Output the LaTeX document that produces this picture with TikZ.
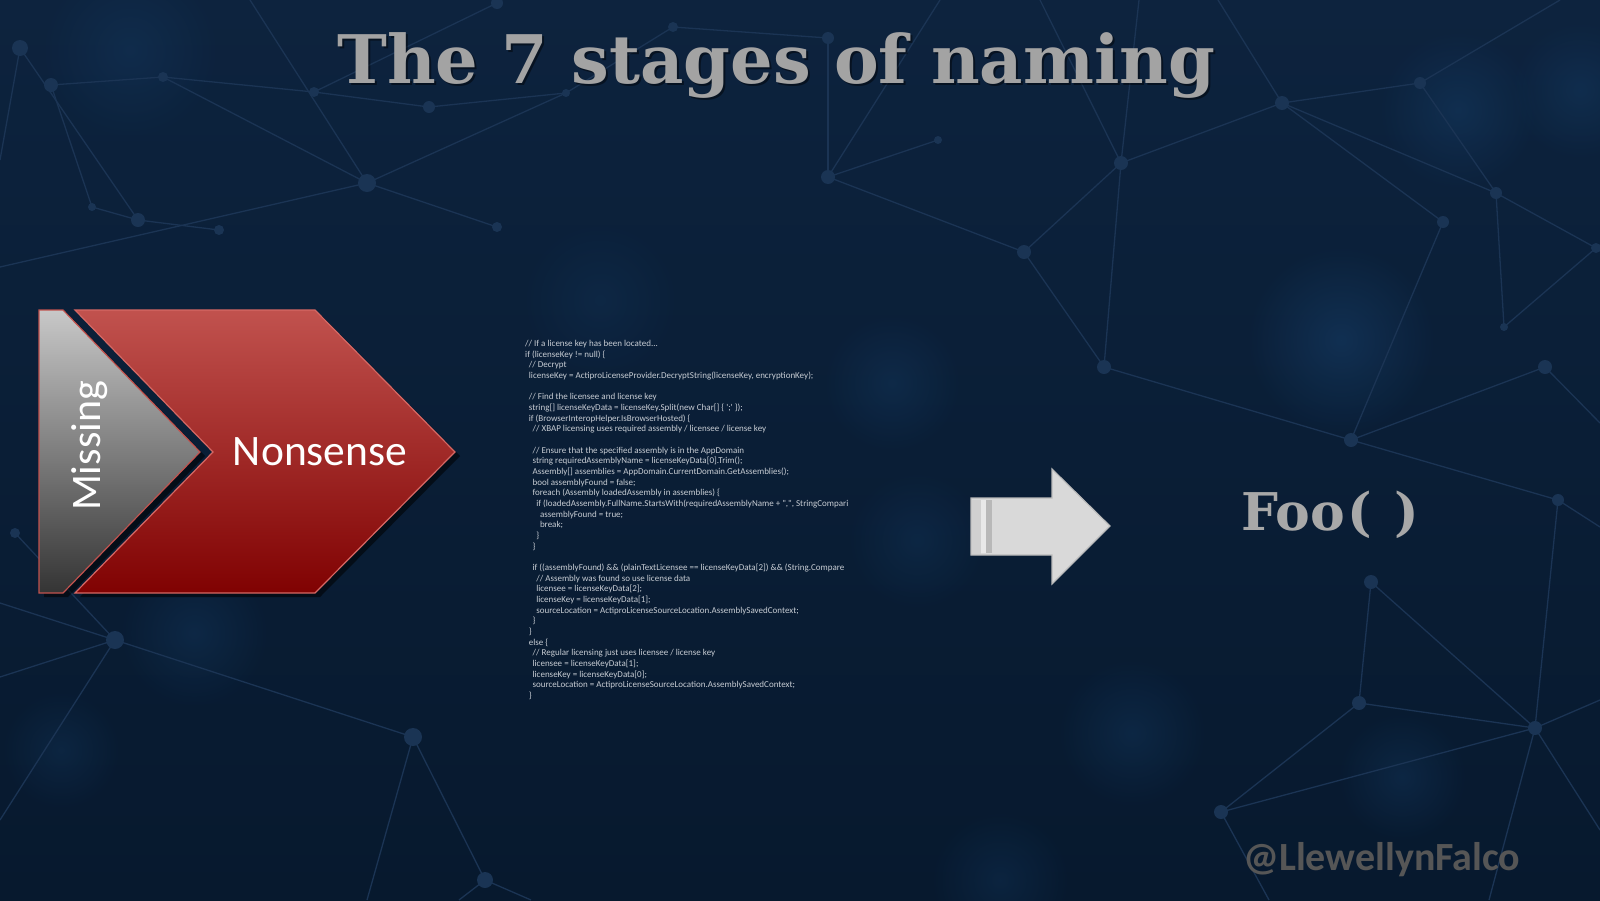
\documentclass[tikz,border=0pt]{standalone}
\usepackage{fontspec}
\usepackage{graphicx}
\usetikzlibrary{fadings}
\newfontfamily\titlefont{DejaVu Serif}
\newfontfamily\calfont{Carlito}

\definecolor{bgT}{RGB}{13,35,62}
\definecolor{bgM}{RGB}{7,27,50}
\definecolor{bgB}{RGB}{7,25,46}
\definecolor{glowc}{RGB}{22,62,104}
\definecolor{netline}{RGB}{27,52,84}
\definecolor{netdot}{RGB}{26,52,84}
\definecolor{titlegray}{RGB}{163,163,163}
\definecolor{foogray}{RGB}{168,168,168}
\definecolor{handlegray}{RGB}{86,86,86}
\definecolor{codegray}{RGB}{200,205,212}
\definecolor{redtop}{RGB}{193,82,78}
\definecolor{redbot}{RGB}{128,2,2}
\definecolor{redline}{RGB}{214,104,100}
\definecolor{graytop}{RGB}{200,200,200}
\definecolor{graybot}{RGB}{52,52,52}
\definecolor{arrowfill}{RGB}{217,217,217}
\definecolor{arrowline}{RGB}{186,186,186}

\tikzfading[name=softglow, inner color=transparent!0, outer color=transparent!100]

\newlength\codeind
\setlength\codeind{3.7pt}
\newcommand\ci[1]{\hspace*{#1\codeind}}

\tikzset{
  netedge/.style={draw=netline, line width=1.3pt},
  glow/.style={fill=glowc, path fading=softglow},
  chevshadow/.style={fill=black, opacity=0.55},
}

\begin{document}
\begin{tikzpicture}[x=1pt,y=-1pt]
\useasboundingbox (0,0) rectangle (1600,900);

% backdrop
\shade[top color=bgT, middle color=bgM, bottom color=bgB] (0,0) rectangle (1600,900);
\foreach \x/\y/\r/\o in {1341/340/95/.55, 1458/110/80/.45, 892/383/70/.35, 1580/90/70/.4,
  194/633/75/.35, 917/540/70/.3, 1132/733/75/.35, 1402/777/65/.35, 61/750/60/.3,
  130/50/90/.35, 600/300/80/.25, 1000/880/70/.3}
  \fill[glow, opacity=\o] (\x,\y) circle (\r);

% network of points
\foreach \n/\x/\y in {a1/20/48, a2/51/85, a3/163/77, a4/314/92, a5/429/107,
  a6/566/93, a7/367/183, a8/497/227, a9/138/220, a10/219/230, a11/92/207,
  a12/673/27, a13/497/3,
  b1/828/38, b2/828/177, b3/938/140, b4/1121/163, b5/1024/252, b6/1104/367,
  b7/1282/103, b8/1420/83, b9/1443/222, b10/1496/193, b11/1545/367,
  b12/1351/440, b13/1596/248, b14/1504/327,
  c1/115/640, c2/413/737, c3/485/880, c4/15/533,
  d1/1558/500, d2/1371/582, d3/1359/703, d4/1535/728, d5/1221/812}
  \coordinate (\n) at (\x,\y);
\foreach \n/\x/\y in {e1/0/267, e2/250/0, e3/0/603, e4/0/677, e5/0/820, e6/367/900,
  e7/531/900, e8/459/900, e9/1040/0, e10/1139/0, e11/1218/0, e12/940/0, e13/1560/0,
  e14/1600/423, e15/1269/900, e16/1600/527, e17/1600/700, e18/1489/900, e19/1600/830,
  e20/0/160}
  \coordinate (\n) at (\x,\y);
\foreach \p/\q in {e1/a7, a7/a8, a7/a3, a7/e2, a7/a6, a1/a9, a2/a3, a2/a11, a3/a4, a4/a5,
  a5/a6, a4/a13, a6/a12, a12/b1, a1/e20, a9/a10, a9/a11,
  b2/b5, b5/b6, b5/b4, b4/b6, b4/b7, b4/e9, b4/e10, b7/b9, b7/e11, b7/b10, b8/b10,
  b8/e13, b10/b13, b10/b14, b9/b12, b12/b11, b6/b12, b2/e12, b2/b3, b11/e14, b13/b14,
  b1/b2, b7/b8,
  e3/c1, c1/c2, c1/e4, c1/e5, c2/e6, c2/c3, c3/e7, c3/e8, c4/c1,
  d2/d3, d2/d4, d3/d4, d3/d5, d5/d4, d5/e15, d1/e16, b12/d1, d4/e17, d4/e18, d4/e19, d1/d4}
  \draw[netedge] (\p) -- (\q);
\foreach \n/\r in {a1/8, a2/7, a3/5, a4/5, a5/6, a6/4, a7/9, a8/5, a9/7, a10/5, a11/4,
  a12/5, a13/6, b1/6, b2/7, b3/4, b4/7, b5/7, b6/7, b7/7, b8/6, b9/6, b10/6, b11/7,
  b12/7, b13/5, b14/4, c1/9, c2/9, c3/8, c4/5, d1/6, d2/7, d3/7, d4/7, d5/7}
  \fill[netdot] (\n) circle (\r);

% title
\node[anchor=base west, inner sep=0, text=black, opacity=.45,
  font=\titlefont\bfseries\fontsize{67}{67}\selectfont] at (339,85) {The 7 stages of naming};
\node[anchor=base west, inner sep=0, text=titlegray,
  font=\titlefont\bfseries\fontsize{67}{67}\selectfont] (title) at (337,83) {The 7 stages of naming};

% chevron stages
\fill[chevshadow] (80,314) -- (320,314) -- (460,456) -- (320,597) -- (80,597) -- (218,456) -- cycle;
\fill[chevshadow] (44,314) -- (68,314) -- (205,456) -- (68,597) -- (44,597) -- cycle;
\shade[top color=graytop, bottom color=graybot, draw=redtop, line width=1.2pt]
  (39,310) -- (63,310) -- (200,452) -- (63,593) -- (39,593) -- cycle;
\shade[top color=redtop, bottom color=redbot, draw=redline, line width=1.2pt]
  (75,310) -- (315,310) -- (455,452) -- (315,593) -- (75,593) -- (213,452) -- cycle;
\node[rotate=90, anchor=base, inner sep=0, text=white,
  font=\calfont\fontsize{42}{42}\selectfont] (missing) at (100,446) {Missing};
\node[anchor=base, inner sep=0, text=white,
  font=\calfont\fontsize{43.5}{43.5}\selectfont] (nonsense) at (320,465) {Nonsense};

% code listing
\node[anchor=north west, inner sep=0, align=left, text=codegray,
  font=\calfont\fontsize{9}{10.67}\selectfont] (code) at (525,340) {%
\ci0// If a license key has been located...\\
\ci0if (licenseKey != null) \{\\
\ci1// Decrypt\\
\ci1licenseKey = ActiproLicenseProvider.DecryptString(licenseKey, encryptionKey);\\
\mbox{}\\
\ci1// Find the licensee and license key\\
\ci1string[] licenseKeyData = licenseKey.Split(new Char[] \{ ';' \});\\
\ci1if (BrowserInteropHelper.IsBrowserHosted) \{\\
\ci2// XBAP licensing uses required assembly / licensee / license key\\
\mbox{}\\
\ci2// Ensure that the specified assembly is in the AppDomain\\
\ci2string requiredAssemblyName = licenseKeyData[0].Trim();\\
\ci2Assembly[] assemblies = AppDomain.CurrentDomain.GetAssemblies();\\
\ci2bool assemblyFound = false;\\
\ci2foreach (Assembly loadedAssembly in assemblies) \{\\
\ci3if (loadedAssembly.FullName.StartsWith(requiredAssemblyName + ",", StringCompari\\
\ci4assemblyFound = true;\\
\ci4break;\\
\ci3\}\\
\ci2\}\\
\mbox{}\\
\ci2if ((assemblyFound) \&\& (plainTextLicensee == licenseKeyData[2]) \&\& (String.Compare\\
\ci3// Assembly was found so use license data\\
\ci3licensee = licenseKeyData[2];\\
\ci3licenseKey = licenseKeyData[1];\\
\ci3sourceLocation = ActiproLicenseSourceLocation.AssemblySavedContext;\\
\ci2\}\\
\ci1\}\\
\ci1else \{\\
\ci2// Regular licensing just uses licensee / license key\\
\ci2licensee = licenseKeyData[1];\\
\ci2licenseKey = licenseKeyData[0];\\
\ci2sourceLocation = ActiproLicenseSourceLocation.AssemblySavedContext;\\
\ci1\}};

% block arrow
\filldraw[fill=arrowfill, draw=arrowline, line width=1.2pt]
  (971,498) -- (1052,498) -- (1052,469) -- (1110,526) -- (1052,584) -- (1052,555)
  -- (971,555) -- cycle;
\fill[fill={rgb,255:red,208;green,208;blue,208}] (972,499.5) rectangle (981,553.5);
\fill[fill={rgb,255:red,232;green,232;blue,232}] (981,500) rectangle (986,553);
\fill[fill={rgb,255:red,184;green,184;blue,184}] (986,500) rectangle (992,553);
\coordinate (arrowtip) at (1110,526);

% result
\node[anchor=base west, inner sep=0, text=foogray,
  font=\titlefont\bfseries\fontsize{52}{52}\selectfont] (foo) at (1241,530) {Foo\kern3pt(\kern22pt)};

% handle
\node[anchor=base west, inner sep=0, text=handlegray,
  font=\calfont\bfseries\fontsize{40}{40}\selectfont] (handle) at (1243,870) {@LlewellynFalco};
\end{tikzpicture}
\end{document}
